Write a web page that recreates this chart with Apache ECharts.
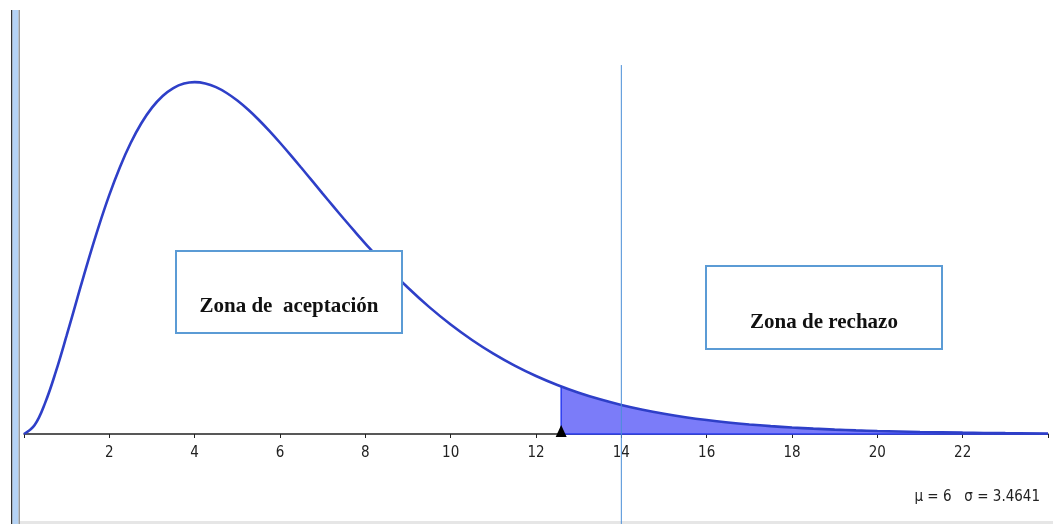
<!DOCTYPE html>
<html>
<head>
<meta charset="utf-8">
<script src="https://cdn.jsdelivr.net/npm/echarts@6/dist/echarts.min.js"></script>
<style>html,body{margin:0;padding:0;background:#fff;}#c{width:1053px;height:524px;}</style>
</head>
<body>
<div id="c"></div>
<script>
// Curve values (chi-square density, 6 d.f.)
var xVals = [0,0.25,0.5,0.75,1,1.25,1.5,1.75,2,2.25,2.5,2.75,3,3.25,3.5,3.75,4,4.25,4.5,4.75,5,5.25,5.5,5.75,6,6.25,6.5,6.75,7,7.25,7.5,7.75,8,8.5,9,9.5,10,10.5,11,11.5,12,12.5,13,13.5,14,14.5,15,15.5,16,16.5,17,17.5,18,18.5,19,19.5,20,21,22,23,24];
var yVals = [0,0.00345,0.01217,0.02416,0.03791,0.05227,0.06643,0.07979,0.09197,0.10272,0.11191,0.11951,0.12551,0.12999,0.13304,0.13478,0.13534,0.13483,0.13340,0.13116,0.12826,0.12479,0.12087,0.11658,0.11202,0.10727,0.10239,0.09744,0.09248,0.08755,0.08268,0.07791,0.07326,0.06441,0.05624,0.04880,0.04211,0.03616,0.03091,0.02631,0.02231,0.01885,0.01588,0.01334,0.01117,0.00933,0.00778,0.00647,0.00537,0.00445,0.00368,0.00303,0.00250,0.00206,0.00169,0.00139,0.00114,0.00076,0.00051,0.00033,0.00022];
var critX = 12.59, critY = 0.01828;
var refX = 14;
var refTop = 0.1419, refBottom = -0.0346;
var xTicks = [2,4,6,8,10,12,14,16,18,20,22];
var statsText = 'μ = 6   σ = 3.4641';

var curve = xVals.map(function(x,i){return [x,yVals[i]];});
var tail = [[critX,critY]].concat(curve.filter(function(p){return p[0]>critX;}));
var blue = '#2e3fc8';

var chart = echarts.init(document.getElementById('c'));
chart.setOption({
  animation:false,
  grid:{left:24,right:5,top:18,bottom:90,containLabel:false,outerBoundsMode:'none'},
  xAxis:{type:'value',min:0,max:24,interval:2,
    axisLine:{onZero:false,lineStyle:{color:'#222',width:1.5}},
    axisTick:{show:true,length:4,lineStyle:{color:'#222'}},
    axisLabel:{margin:12,color:'#222',fontSize:15,fontFamily:'"Liberation Sans Narrow","DejaVu Sans Condensed",sans-serif',
      formatter:function(v){return xTicks.indexOf(v)>=0?String(v):'';}},
    splitLine:{show:false}},
  yAxis:{type:'value',min:0,max:0.16,show:false,splitLine:{show:false}},
  series:[
    {type:'line',data:tail,smooth:0.4,symbol:'none',clip:false,z:2,
     lineStyle:{width:0},areaStyle:{color:'#7b7cf9',opacity:1,origin:0}},
    {type:'line',data:[[critX,critY],[critX,0],[24,0]],symbol:'none',z:3,clip:false,
     lineStyle:{color:'#2b3cf0',width:1.5}},
    {type:'line',data:[[refX,refTop],[refX,refBottom]],symbol:'none',z:5,clip:false,
     lineStyle:{color:'#4a8fd8',width:1}},
    {type:'line',data:curve,smooth:0.4,symbol:'none',z:4,clip:false,
     lineStyle:{color:blue,width:2.6},
     markPoint:{symbol:'triangle',symbolSize:[11,12],symbolOffset:[0,-3],silent:true,
       itemStyle:{color:'#000'},label:{show:false},
       data:[{coord:[critX,0]}]}}
  ],
  graphic:[
    {type:'rect',shape:{x:11,y:10,width:1.5,height:514},style:{fill:'#333'},z:100},
    {type:'rect',shape:{x:12.5,y:10,width:6,height:514},style:{fill:'#b5d3f5'},z:100},
    {type:'rect',shape:{x:18.5,y:10,width:1.5,height:514},style:{fill:'#999'},z:100},
    {type:'rect',shape:{x:20,y:521,width:1033,height:3},style:{fill:'#e6e6e6'},z:1},
    {type:'rect',shape:{x:176,y:251,width:226,height:82},style:{fill:'#fff',stroke:'#5b9bd5',lineWidth:2},z:100},
    {type:'text',x:289,y:307,style:{text:'Zona de  aceptación',fill:'#111',font:'bold 21px "Liberation Serif","Times New Roman",serif',textAlign:'center',textVerticalAlign:'middle'},z:101},
    {type:'rect',shape:{x:706,y:266,width:236,height:83},style:{fill:'#fff',stroke:'#5b9bd5',lineWidth:2},z:100},
    {type:'text',x:824,y:323,style:{text:'Zona de rechazo',fill:'#111',font:'bold 21px "Liberation Serif","Times New Roman",serif',textAlign:'center',textVerticalAlign:'middle'},z:101},
    {type:'text',x:1040,y:497,style:{text:statsText,fill:'#222',font:'15px "Liberation Sans Narrow","DejaVu Sans Condensed",sans-serif',textAlign:'right',textVerticalAlign:'middle'},z:101}
  ]
});
</script>
</body>
</html>
